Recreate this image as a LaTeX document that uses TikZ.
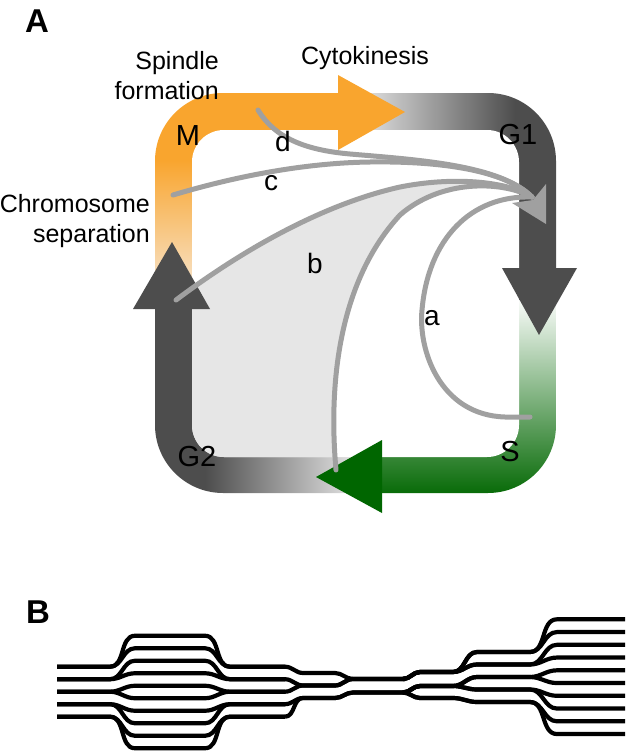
\documentclass[tikz,border=0pt]{standalone}
\usepackage{fontspec}
\setmainfont{Liberation Sans}
\definecolor{phaseorange}{RGB}{249,165,46}
\definecolor{phasepale}{RGB}{247,233,216}
\definecolor{phasegray}{RGB}{77,77,77}
\definecolor{phaselight}{RGB}{232,232,232}
\definecolor{phasegreen}{RGB}{0,102,0}
\definecolor{midgreen}{RGB}{0,135,0}
\definecolor{trackgray}{RGB}{160,160,160}
\definecolor{fillgray}{RGB}{230,230,230}

\begin{document}
\begin{tikzpicture}[x=1pt,y=-1pt,
    phaselabel/.style={font=\fontsize{29pt}{32pt}\selectfont, inner sep=0pt},
    eventlabel/.style={font=\fontsize{25pt}{30pt}\selectfont, inner sep=0pt, align=right},
    pathlabel/.style={font=\fontsize{28pt}{32pt}\selectfont, inner sep=0pt},
    panellabel/.style={font=\fontsize{33pt}{36pt}\selectfont\bfseries, inner sep=0pt},
    track/.style={draw=trackgray, line width=5pt, line cap=round},
    strand/.style={line width=4.2pt, line join=round}]

  \useasboundingbox (0,0) rectangle (625,752);

  % cycle band, one phase at a time
  \begin{scope}
    \clip[rounded corners=68pt] (155,93) rectangle (556,493);
    \clip (140,80) rectangle (338,300);
    \fill[phaseorange] (140,80) rectangle (338,160);
    \shade[top color=phaseorange, bottom color=phasepale] (140,160) rectangle (338,300);
  \end{scope}
  \begin{scope}
    \clip[rounded corners=68pt] (155,93) rectangle (556,493);
    \clip (338,80) rectangle (570,300);
    \fill[phaselight] (338,80) rectangle (355,300);
    \shade[left color=phaselight, right color=phasegray] (355,80) rectangle (515,300);
    \fill[phasegray] (515,80) rectangle (570,300);
  \end{scope}
  \begin{scope}
    \clip[rounded corners=68pt] (155,93) rectangle (556,493);
    \clip (382,300) rectangle (570,510);
    \shade[top color=white, middle color=midgreen, bottom color=phasegreen] (382,295) rectangle (570,500);
    \fill[phasegreen] (382,500) rectangle (570,510);
  \end{scope}
  \begin{scope}
    \clip[rounded corners=68pt] (155,93) rectangle (556,493);
    \clip (140,300) rectangle (382,510);
    \fill[phasegray] (140,300) rectangle (205,510);
    \shade[left color=phasegray, right color=phaselight] (205,300) rectangle (360,510);
    \fill[phaselight] (360,300) rectangle (382,510);
  \end{scope}
  \fill[white, rounded corners=32pt] (192,130) rectangle (519,457);

  % shaded area between b and the lower route
  \begin{scope}
    \clip[rounded corners=32pt] (192,130) rectangle (519,457);
    \fill[fillgray] (176,300) .. controls (240,252) and (320,205) .. (400,187)
      .. controls (450,177) and (505,180) .. (532,197)
      .. controls (500,180) and (440,180) .. (400,215)
      .. controls (340,280) and (328,380) .. (336,470) -- (336,500) -- (150,500) -- cycle;
  \end{scope}

  % arrow heads of the phases
  \fill[phaseorange] (338,75) -- (405,112) -- (338,150) -- cycle;
  \fill[phasegray] (502,268) -- (539,335) -- (577,268) -- cycle;
  \fill[phasegreen] (382,440) -- (316,477) -- (382,513) -- cycle;
  \fill[phasegray] (133,309) -- (172,242) -- (210,309) -- cycle;

  % routes back to G1
  \coordinate (hub) at (532,197);
  \coordinate (afrom) at (530,417);
  \coordinate (bfrom) at (176,300);
  \coordinate (cfrom) at (173,195);
  \coordinate (dfrom) at (258,110);
  \coordinate (efrom) at (336,470);

  \draw[track] (dfrom) .. controls (275,138) and (305,150) .. (350,154) .. controls (420,160) and (500,165) .. (hub);
  \draw[track] (cfrom) .. controls (230,178) and (300,163) .. (370,162) .. controls (440,161) and (505,170) .. (hub);
  \draw[track] (bfrom) .. controls (240,252) and (320,205) .. (400,187) .. controls (450,177) and (505,180) .. (hub);
  \draw[track] (efrom) .. controls (328,380) and (340,280) .. (400,215) .. controls (440,180) and (500,180) .. (hub);
  \draw[track] (afrom) -- (505,417) .. controls (440,415) and (418,350) .. (422,310) .. controls (428,240) and (470,195) .. (hub);
  \fill[trackgray] (546,184) -- (546,224) -- (512,203) -- (533,200) -- cycle;

  % labels
  \node[panellabel] (panelA) at (37,21) {A};
  \node[eventlabel, anchor=east] (spindle) at (219,76) {Spindle\\formation};
  \node[eventlabel, anchor=base] (cytokinesis) at (365,64) {Cytokinesis};
  \node[eventlabel, anchor=east] (separation) at (150,221) {Chromosome\\separation};

  \node[phaselabel] (M) at (188,136) {M};
  \node[phaselabel] (G1) at (518,135) {G1};
  \node[phaselabel] (S) at (510,452) {S};
  \node[phaselabel] (G2) at (197,457) {G2};

  \node[pathlabel] (a) at (432,318) {a};
  \node[pathlabel] (b) at (315,263) {b};
  \node[pathlabel] (c) at (271,183) {c};
  \node[pathlabel] (d) at (283,141) {d};

  % panel B: strands
  \node[panellabel] (panelB) at (38,612) {B};

  \foreach \i in {0,...,9}{
    \pgfmathsetmacro{\ya}{666.7+12.5*floor(\i/2)}
    \pgfmathsetmacro{\yb}{635.75+12.5*\i}
    \draw[strand] (57,\ya) -- (110,\ya) to[out=0,in=180] (135,\yb) -- (205,\yb)
      to[out=0,in=180] (230,\ya) -- (285,\ya);
  }
  \foreach \ya/\yb/\yc in {666.7/673/679, 679.2/685.5/679, 691.7/685.5/679,
                           704.2/698/692.5, 716.7/698/692.5}
    \draw[strand] (285,\ya) to[out=0,in=180] (303,\yb) -- (335,\yb)
      to[out=0,in=180] (353,\yc) -- (405,\yc);
  \foreach \yc/\yd/\ye/\yf in {679/672/652/619.3, 679/672/652/632.05,
                               679/672/664.5/644.8, 679/672/664.5/657.55,
                               692.5/686/677/670.3, 692.5/686/677/683.05,
                               692.5/686/689.5/695.8, 692.5/686/689.5/708.55,
                               692.5/698/702/721.3, 692.5/698/702/734.05}
    \draw[strand] (403,\yc) to[out=0,in=180] (420,\yd) -- (453,\yd)
      to[out=0,in=180] (477,\ye) -- (530,\ye) to[out=0,in=180] (557,\yf) -- (625,\yf);

\end{tikzpicture}
\end{document}
